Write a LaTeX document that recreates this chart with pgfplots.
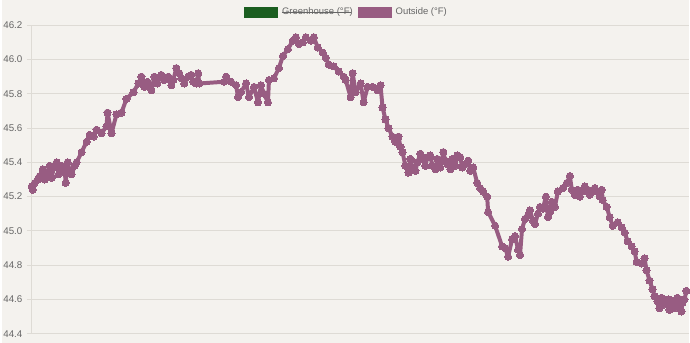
\documentclass[border=0pt]{standalone}
\usepackage{pgfplots}
\pgfplotsset{compat=1.18}
\usepackage{pgfplotstable}
\usepackage{fontspec}
\setmainfont{Liberation Sans}
\definecolor{bg}{HTML}{F4F2EE}
\definecolor{gridc}{HTML}{DEDBD5}
\definecolor{purp}{HTML}{985C82}
\definecolor{gh}{HTML}{1B5E20}
\definecolor{lbl}{HTML}{666666}
\pgfplotstableread{
x y
30 45.26
31 45.24
33 45.28
36 45.30
38 45.32
41 45.36
43 45.30
45 45.34
48 45.38
50 45.31
52 45.37
55 45.40
57 45.33
58 45.36
60 45.38
63 45.35
64 45.28
66 45.40
68 45.35
70 45.33
73 45.38
75 45.40
80 45.46
85 45.52
88 45.56
92 45.55
95 45.59
100 45.57
105 45.61
106 45.69
110 45.57
115 45.68
120 45.69
125 45.77
132 45.81
137 45.86
140 45.90
143 45.84
146 45.87
150 45.82
153 45.90
156 45.86
160 45.91
163 45.88
167 45.90
170 45.85
172 45.88
175 45.95
178 45.92
180 45.89
183 45.86
187 45.90
190 45.91
192 45.87
195 45.86
197 45.92
198 45.86
223 45.87
225 45.90
230 45.87
235 45.85
237 45.78
240 45.81
245 45.86
248 45.78
253 45.84
257 45.75
260 45.85
263 45.80
267 45.75
268 45.88
273 45.89
278 45.95
282 46.02
287 46.06
292 46.11
295 46.13
298 46.09
302 46.10
305 46.13
310 46.11
313 46.13
317 46.07
322 46.04
325 46.01
328 45.97
333 45.96
338 45.93
343 45.90
345 45.88
350 45.78
352 45.92
355 45.81
360 45.86
363 45.75
367 45.84
372 45.84
377 45.82
380 45.85
382 45.72
385 45.65
388 45.60
392 45.55
395 45.52
398 45.55
400 45.49
402 45.46
405 45.38
408 45.34
410 45.42
412 45.37
415 45.35
417 45.40
420 45.45
422 45.42
425 45.38
427 45.43
430 45.44
432 45.38
435 45.36
437 45.42
440 45.37
443 45.46
445 45.41
447 45.39
450 45.36
452 45.42
455 45.38
457 45.44
460 45.43
462 45.37
465 45.39
468 45.41
470 45.35
473 45.37
477 45.28
480 45.25
483 45.23
487 45.20
488 45.11
495 45.03
502 44.91
505 44.90
508 44.85
512 44.95
515 44.97
518 44.89
520 44.86
522 45.01
525 45.07
528 45.09
530 45.12
533 45.06
535 45.04
538 45.10
540 45.14
543 45.13
546 45.20
548 45.08
550 45.11
552 45.17
555 45.14
558 45.23
563 45.25
567 45.28
570 45.32
572 45.24
575 45.21
578 45.24
580 45.20
583 45.23
585 45.26
588 45.24
590 45.21
593 45.23
595 45.25
598 45.23
600 45.20
602 45.24
603 45.18
607 45.14
610 45.08
613 45.03
618 45.05
622 45.02
625 44.99
628 44.94
632 44.91
635 44.88
637 44.82
642 44.81
645 44.84
647 44.77
650 44.71
653 44.66
655 44.62
658 44.59
660 44.55
662 44.61
664 44.57
667 44.59
669 44.60
670 44.54
673 44.59
675 44.55
677 44.59
678 44.61
680 44.56
682 44.53
683 44.58
685 44.60
687 44.65
}\outside
\begin{document}
\begin{tikzpicture}[x=1pt,y=1pt]
\fill[bg] (0,0) rectangle (690,344);
\begin{axis}[
  at={(30pt,9pt)}, anchor=south west,
  scale only axis, width=660pt, height=309.7pt,
  xmin=30, xmax=690, ymin=44.4, ymax=46.2,
  axis lines*=left, axis line style={gridc, line width=1pt, -},
  xtick=\empty,
  ytick={44.4,44.6,44.8,45.0,45.2,45.4,45.6,45.8,46.0,46.2},
  ymajorgrids, grid style={gridc, line width=1pt},
  tick style={gridc, line width=1pt}, major tick length=5pt, tick align=outside,
  yticklabel style={lbl, font=\fontsize{9.8}{11}\selectfont, xshift=-1pt},
  /pgf/number format/.cd, fixed, fixed zerofill, precision=1, assume math mode=true,
]
\addplot[purp, line width=4pt, line join=round, mark=*, mark size=3.6pt, mark options={fill=purp, draw=purp, line width=0pt}] table[x=x,y=y] {\outside};
\end{axis}
\fill[gh] (243,326) rectangle (277,337);
\node[anchor=west, inner sep=0pt, text=lbl, font=\fontsize{9.5}{11}\selectfont] (g) at (281,331.5) {Greenhouse (°F)};
\draw[lbl, line width=0.6pt] (g.west) ++(0,0.5) -- ++(69,0);
\fill[purp] (357,326) rectangle (391,337);
\node[anchor=west, inner sep=0pt, text=lbl, font=\fontsize{9.5}{11}\selectfont] at (395,331.5) {Outside (°F)};
\end{tikzpicture}
\end{document}
